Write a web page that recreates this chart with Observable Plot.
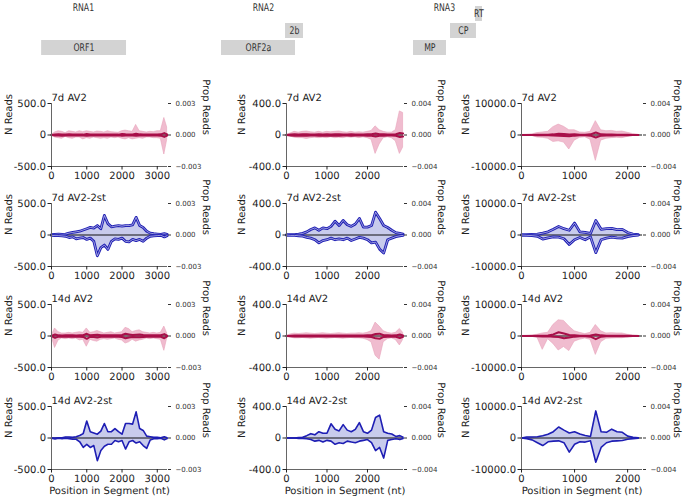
<!DOCTYPE html>
<html><head><meta charset="utf-8">
<script src="https://cdn.jsdelivr.net/npm/d3@7"></script>
<script src="https://cdn.jsdelivr.net/npm/@observablehq/plot@0.6"></script>
<style>
body{margin:0;background:#fff;}
#fig{position:relative;width:683px;height:498px;overflow:hidden;font-family:"DejaVu Sans",sans-serif;}
#fig > div{position:absolute;}
#fig svg{overflow:visible;max-width:none !important;}
#fig svg text{-webkit-font-smoothing:antialiased;text-rendering:geometricPrecision;}
</style></head><body><div id="fig"></div>
<script>
// ---------- categories / ticks ----------
const segments = ["RNA1", "RNA2", "RNA3"];
const samples = ["7d AV2", "7d AV2-2st", "14d AV2", "14d AV2-2st"];
const segLength = [3290, 2890, 2280];
const yMax = [500, 400, 10000];
const propMax = [0.003, 0.004, 0.004];
const xTicks1 = [0, 1000, 2000, 3000];
const xTicks2 = [0, 1000, 2000];
const xTicks3 = [0, 1000, 2000];

// ---------- genome annotation ----------
const trackLen = [3300, 2900, 2300];
const genes1 = ["ORF1"], start1 = [210], end1 = [3130], row1 = [0];
const genes2 = ["ORF2a", "2b"], start2 = [154, 2130], end2 = [2438, 2685], row2 = [0, 1];
const genes3 = ["MP", "CP", "RT"], start3 = [340, 1307, 1960], end3 = [1202, 1986, 2143], row3 = [0, 1, 2];

// ---------- positions (nt) ----------
const pos1 = [0,100,200,300,400,500,600,700,800,900,1000,1100,1200,1300,1400,1500,1600,1700,1800,1900,2000,2100,2200,2300,2400,2500,2600,2700,2800,2900,3000,3100,3200,3280];
const pos2 = [0,100,200,300,400,500,600,700,800,900,1000,1100,1200,1300,1400,1500,1600,1700,1800,1900,2000,2100,2200,2300,2400,2500,2600,2700,2800,2880];
const pos3 = [0,100,200,300,400,500,600,700,800,900,1000,1100,1200,1300,1400,1500,1600,1700,1800,1900,2000,2100,2200];

// ---------- RNA1 ----------
const r1_7dAV2_bandUp = [0,40,60,50,30,60,50,40,60,45,60,50,40,55,50,40,60,45,40,35,60,70,60,50,160,60,50,40,50,45,60,60,270,120];
const r1_7dAV2_bandLo = [0,-40,-50,-60,-30,-50,-60,-40,-40,-70,-50,-60,-40,-50,-60,-50,-60,-40,-50,-40,-60,-70,-50,-70,-60,-50,-60,-40,-40,-50,-50,-60,-310,-80];
const r1_7dAV2_lineUp = [0,8,10,8,6,10,8,6,8,6,15,8,6,8,8,6,8,8,6,6,15,10,8,8,20,10,8,6,8,6,8,10,30,10];
const r1_7dAV2_lineLo = [0,-8,-8,-10,-6,-8,-8,-6,-6,-8,-12,-8,-6,-8,-8,-6,-8,-6,-6,-6,-12,-8,-8,-8,-10,-8,-6,-8,-6,-6,-8,-10,-30,-10];
const r1_7dST_up = [5,10,15,10,15,30,40,50,60,80,100,120,110,150,100,310,180,130,140,150,140,150,150,160,280,150,120,60,30,20,15,10,20,10];
const r1_7dST_lo = [-5,-10,-10,-15,-20,-40,-30,-60,-50,-40,-70,-50,-100,-330,-200,-160,-230,-100,-60,-70,-50,-100,-110,-70,-90,-70,-100,-50,-20,-15,-10,-5,-30,-10];
const r1_14dAV2_bandUp = [0,120,60,40,40,50,40,50,60,50,120,50,60,80,60,40,50,60,40,50,60,130,110,60,80,90,60,50,40,50,40,50,150,40];
const r1_14dAV2_bandLo = [0,-190,-70,-40,-50,-40,-50,-40,-70,-60,-170,-60,-80,-90,-60,-50,-60,-50,-40,-60,-70,-120,-100,-60,-90,-70,-60,-40,-50,-40,-50,-60,-235,-40];
const r1_14dAV2_lineUp = [0,25,10,8,10,12,10,8,10,12,35,10,15,20,12,10,12,12,10,12,15,35,25,15,20,25,15,12,10,10,10,12,30,5];
const r1_14dAV2_lineLo = [0,-30,-10,-8,-10,-10,-10,-8,-12,-15,-45,-12,-15,-25,-12,-10,-12,-10,-10,-12,-15,-35,-25,-15,-20,-20,-15,-12,-10,-10,-10,-12,-35,-5];
const r1_14dST_up = [0,0,5,5,15,15,10,20,40,70,270,100,80,60,110,230,100,100,150,100,60,230,230,220,415,150,120,30,20,10,10,5,20,5];
const r1_14dST_lo = [-5,-15,-5,-10,-5,-10,-20,-20,-60,-150,-100,-150,-120,-360,-200,-130,-100,-100,-40,-60,-40,-175,-60,-40,-80,-60,-120,-165,-30,-10,-10,-5,-30,-10];

// ---------- RNA2 ----------
const r2_7dAV2_bandUp = [0,20,40,30,40,45,35,30,40,30,40,35,40,45,35,30,40,30,35,30,40,50,110,60,40,30,30,60,300,280];
const r2_7dAV2_bandLo = [0,-20,-35,-40,-40,-50,-40,-35,-40,-35,-40,-30,-40,-35,-40,-30,-35,-30,-40,-30,-40,-60,-240,-120,-40,-30,-40,-80,-240,-160];
const r2_7dAV2_lineUp = [0,5,8,6,8,8,6,6,8,6,8,6,8,8,6,6,8,6,6,6,8,10,20,10,8,6,6,10,25,20];
const r2_7dAV2_lineLo = [0,-5,-8,-6,-8,-8,-6,-6,-8,-6,-8,-6,-8,-8,-6,-6,-8,-6,-6,-6,-8,-10,-20,-10,-8,-6,-6,-10,-25,-20];
const r2_7dST_up = [0,5,5,10,20,40,70,90,60,90,80,110,175,120,185,130,110,140,210,100,100,120,290,210,120,95,60,30,20,10];
const r2_7dST_lo = [0,-5,-5,-10,-15,-30,-40,-60,-100,-70,-60,-40,-60,-50,-60,-40,-70,-50,-30,-40,-60,-100,-90,-180,-230,-60,-40,-20,-10,-5];
const r2_14dAV2_bandUp = [0,20,30,25,30,35,30,25,30,35,30,25,30,35,30,25,30,30,35,30,40,60,170,120,60,40,30,40,90,40];
const r2_14dAV2_bandLo = [0,-20,-30,-30,-25,-30,-35,-30,-25,-30,-35,-30,-25,-30,-35,-30,-25,-30,-30,-35,-50,-80,-250,-300,-80,-40,-30,-50,-120,-50];
const r2_14dAV2_lineUp = [0,4,6,5,6,6,5,5,6,6,6,5,6,6,5,5,6,6,6,6,8,10,25,30,10,8,6,8,20,8];
const r2_14dAV2_lineLo = [0,-4,-6,-5,-6,-6,-5,-5,-6,-6,-6,-5,-6,-6,-5,-5,-6,-6,-6,-6,-8,-12,-30,-35,-12,-8,-6,-10,-25,-10];
const r2_14dST_up = [0,0,0,5,10,30,55,40,80,60,60,180,110,90,170,100,80,110,195,80,60,100,260,290,80,60,50,20,30,10];
const r2_14dST_lo = [0,0,0,-5,-5,-10,-20,-40,-30,-50,-30,-40,-80,-60,-70,-40,-50,-60,-40,-30,-20,-60,-160,-120,-255,-30,-20,-10,-20,-5];

// ---------- RNA3 ----------
const r3_7dAV2_bandUp = [0,100,200,600,800,1000,2500,3300,2600,1500,1500,800,700,1000,4400,1500,1200,1300,1000,1100,700,300,100];
const r3_7dAV2_bandLo = [0,-100,-300,-800,-900,-1200,-2200,-2000,-2400,-4600,-1800,-900,-700,-1500,-8200,-1800,-1200,-1000,-900,-1000,-600,-300,-100];
const r3_7dAV2_lineUp = [0,20,30,50,80,100,200,400,300,150,200,100,100,200,800,200,150,150,100,100,60,30,10];
const r3_7dAV2_lineLo = [0,-20,-30,-50,-80,-100,-150,-200,-300,-400,-200,-100,-100,-200,-800,-200,-150,-120,-100,-100,-60,-30,-10];
const r3_7dST_up = [0,100,200,300,600,1000,1800,2700,2000,1500,3800,1000,800,500,4600,1800,2000,2100,1700,1800,800,300,100];
const r3_7dST_lo = [0,-100,-200,-400,-1300,-900,-600,-700,-1200,-3000,-1500,-800,-1500,-600,-5600,-1500,-1000,-700,-900,-1000,-500,-200,-50];
const r3_14dAV2_bandUp = [0,100,200,400,800,1000,3500,5000,4800,3000,1500,1000,600,1000,3500,1500,800,900,800,800,400,200,100];
const r3_14dAV2_bandLo = [0,-100,-200,-500,-4400,-1000,-2500,-4600,-3500,-4800,-1800,-1200,-800,-1200,-6000,-2000,-900,-800,-700,-700,-400,-200,-100];
const r3_14dAV2_lineUp = [0,20,30,50,100,150,500,1200,800,300,200,100,80,150,500,200,100,100,80,80,50,20,10];
const r3_14dAV2_lineLo = [0,-20,-30,-50,-150,-100,-200,-300,-700,-500,-200,-100,-80,-200,-1000,-200,-100,-100,-80,-80,-50,-20,-10];
const r3_14dST_up = [0,300,300,400,700,1200,2000,3500,2500,1600,2000,1300,800,500,8600,2000,1800,2800,2000,1800,600,200,50];
const r3_14dST_lo = [0,-200,-600,-1500,-2400,-1200,-1000,-900,-1500,-4500,-2000,-1200,-1300,-900,-7700,-3000,-1500,-1000,-900,-800,-400,-200,-50];

// ---------- assembly ----------
const positions = [pos1, pos2, pos3];
const xTicks = [xTicks1, xTicks2, xTicks3];
const series = [
  [
    {bandUp: r1_7dAV2_bandUp, bandLo: r1_7dAV2_bandLo, lineUp: r1_7dAV2_lineUp, lineLo: r1_7dAV2_lineLo},
    {bandUp: r1_7dST_up, bandLo: r1_7dST_lo},
    {bandUp: r1_14dAV2_bandUp, bandLo: r1_14dAV2_bandLo, lineUp: r1_14dAV2_lineUp, lineLo: r1_14dAV2_lineLo},
    {bandUp: r1_14dST_up, bandLo: r1_14dST_lo}
  ],
  [
    {bandUp: r2_7dAV2_bandUp, bandLo: r2_7dAV2_bandLo, lineUp: r2_7dAV2_lineUp, lineLo: r2_7dAV2_lineLo},
    {bandUp: r2_7dST_up, bandLo: r2_7dST_lo},
    {bandUp: r2_14dAV2_bandUp, bandLo: r2_14dAV2_bandLo, lineUp: r2_14dAV2_lineUp, lineLo: r2_14dAV2_lineLo},
    {bandUp: r2_14dST_up, bandLo: r2_14dST_lo}
  ],
  [
    {bandUp: r3_7dAV2_bandUp, bandLo: r3_7dAV2_bandLo, lineUp: r3_7dAV2_lineUp, lineLo: r3_7dAV2_lineLo},
    {bandUp: r3_7dST_up, bandLo: r3_7dST_lo},
    {bandUp: r3_14dAV2_bandUp, bandLo: r3_14dAV2_bandLo, lineUp: r3_14dAV2_lineUp, lineLo: r3_14dAV2_lineLo},
    {bandUp: r3_14dST_up, bandLo: r3_14dST_lo}
  ]
];
const tracks = [
  genes1.map((g, i) => ({name: g, start: start1[i], end: end1[i], row: String(row1[i])})),
  genes2.map((g, i) => ({name: g, start: start2[i], end: end2[i], row: String(row2[i])})),
  genes3.map((g, i) => ({name: g, start: start3[i], end: end3[i], row: String(row3[i])}))
];

// ---------- layout & style ----------
const L = {
  frameLeft: [51, 286, 521], frameW: [116, 117, 121],
  frameTop: [103, 203, 304, 406], frameH: 63,
  leftLabelDx: [-43, -45, -56], rightLabelDx: [39, 38, 35],
  trackRange: [[35, 131], [216, 310], [400, 488]], trackScaleX: 0.74
};
const C = {
  pinkFill: "#f0bccf", pinkStroke: "#e8a3bb", pinkLine: "#a80f49",
  blueFill: "#c8cbec", blueLine: "#1e1eb4", zero: "#111", spine: "#666", text: "#222"
};
const fig = document.getElementById("fig");

function place(node, left, top, width, extra) {
  const d = document.createElement("div");
  d.style.left = left + "px"; d.style.top = top + "px"; d.style.width = width + "px";
  if (extra) Object.assign(d.style, extra);
  d.appendChild(node);
  fig.appendChild(d);
}

function track(c) {
  const [a, b] = L.trackRange[c];
  const W = (b - a) / L.trackScaleX;
  const p = Plot.plot({
    width: W, height: 60, marginLeft: 0, marginRight: 0, marginTop: 3, marginBottom: 2,
    x: {domain: [0, trackLen[c]], axis: null},
    y: {domain: ["2", "1", "0"], axis: null, padding: 0.1},
    style: {fontFamily: "DejaVu Sans", fontSize: "10px", color: C.text, background: "transparent", overflow: "visible"},
    marks: [
      Plot.barX(tracks[c], {x1: "start", x2: "end", y: "row", fill: "#d3d3d3"}),
      Plot.text(tracks[c], {x: d => (d.start + d.end) / 2, y: "row", text: "name", fill: "#333", fontSize: 10.5}),
      Plot.text([segments[c]], {frameAnchor: "top", dy: 4, lineAnchor: "middle", text: d => d, fill: "#333", fontSize: 10.5})
    ]
  });
  place(p, a, 0, W, {transform: `scaleX(${L.trackScaleX})`, transformOrigin: "0 0"});
}

function panel(c, r) {
  const P = positions[c];
  const s = series[c][r];
  const pink = r % 2 === 0;
  const rows = P.map((x, i) => ({
    x, bu: s.bandUp[i], bl: s.bandLo[i],
    lu: (s.lineUp || s.bandUp)[i], ll: (s.lineLo || s.bandLo)[i]
  }));
  const ym = yMax[c];
  const ml = 60, mr = 36, mt = 18, mb = r === 3 ? 30 : 22;
  const W = ml + L.frameW[c] + mr, H = mt + L.frameH + mb;
  const fmtL = d => d === 0 ? "0" : (d < 0 ? "-" : "") + Math.abs(d).toFixed(1);
  const fmtR = d3.format(".3f");
  const marks = [
    Plot.areaY(rows, {x: "x", y1: "bl", y2: "bu", fill: pink ? C.pinkFill : C.blueFill,
      stroke: pink ? C.pinkStroke : "none", strokeWidth: 0.6}),
    Plot.ruleY([0], {stroke: C.zero, strokeWidth: 1.2})
  ];
  if (pink) {
    marks.push(Plot.lineY(rows, {x: "x", y: "lu", stroke: C.pinkLine, strokeWidth: 2}));
    marks.push(Plot.lineY(rows, {x: "x", y: "ll", stroke: C.pinkLine, strokeWidth: 2}));
  } else if (r === 1) {
    for (const k of ["lu", "ll"]) {
      marks.push(Plot.lineY(rows, {x: "x", y: k, stroke: C.blueLine, strokeWidth: 2.8}));
      marks.push(Plot.lineY(rows, {x: "x", y: k, stroke: "#fff", strokeWidth: 0.7, strokeOpacity: 0.8}));
    }
  } else {
    marks.push(Plot.lineY(rows, {x: "x", y: "lu", stroke: C.blueLine, strokeWidth: 1.6}));
    marks.push(Plot.lineY(rows, {x: "x", y: "ll", stroke: C.blueLine, strokeWidth: 1.6}));
  }
  marks.push(
    Plot.ruleX([0], {stroke: C.spine, strokeWidth: 1}),
    Plot.ruleY([-ym], {stroke: C.spine, strokeWidth: 1}),
    Plot.axisY({anchor: "left", ticks: [-ym, 0, ym], tickFormat: fmtL, tickSize: 3.5, tickPadding: 2, label: null, fontSize: 10, fill: C.text, stroke: C.text}),
    Plot.axisY({anchor: "right", ticks: [-ym, 0, ym], tickFormat: d => fmtR(d / ym * propMax[c]), tickSize: 3, tickPadding: 5, label: null, fontSize: 7, fill: "#333", stroke: "#333"}),
    Plot.axisX({ticks: xTicks[c], tickFormat: d => String(d), tickSize: 3.5, tickPadding: 1.5, label: null, fontSize: 10, fill: C.text, stroke: C.text}),
    Plot.text([samples[r]], {frameAnchor: "top-left", textAnchor: "start", lineAnchor: "bottom", dy: -3, text: d => d, fontSize: 10, fill: C.text}),
    Plot.text(["N Reads"], {frameAnchor: "left", rotate: -90, dx: L.leftLabelDx[c], text: d => d, fontSize: 10, fill: C.text}),
    Plot.text(["Prop Reads"], {frameAnchor: "right", rotate: 90, dx: L.rightLabelDx[c], text: d => d, fontSize: 10, fill: C.text})
  );
  if (r === 3) marks.push(Plot.text(["Position in Segment (nt)"], {frameAnchor: "bottom", lineAnchor: "middle", dy: 21, text: d => d, fontSize: 10, fill: C.text}));
  const p = Plot.plot({
    width: W, height: H, marginLeft: ml, marginRight: mr, marginTop: mt, marginBottom: mb,
    x: {domain: [0, segLength[c]]},
    y: {domain: [-ym, ym]},
    style: {fontFamily: "DejaVu Sans", fontSize: "10px", color: C.text, background: "transparent", overflow: "visible", maxWidth: "none"},
    marks
  });
  place(p, L.frameLeft[c] - ml, L.frameTop[r] - mt, W);
}

for (let c = 0; c < 3; c++) {
  track(c);
  for (let r = 0; r < 4; r++) panel(c, r);
}
</script>
</body></html>
